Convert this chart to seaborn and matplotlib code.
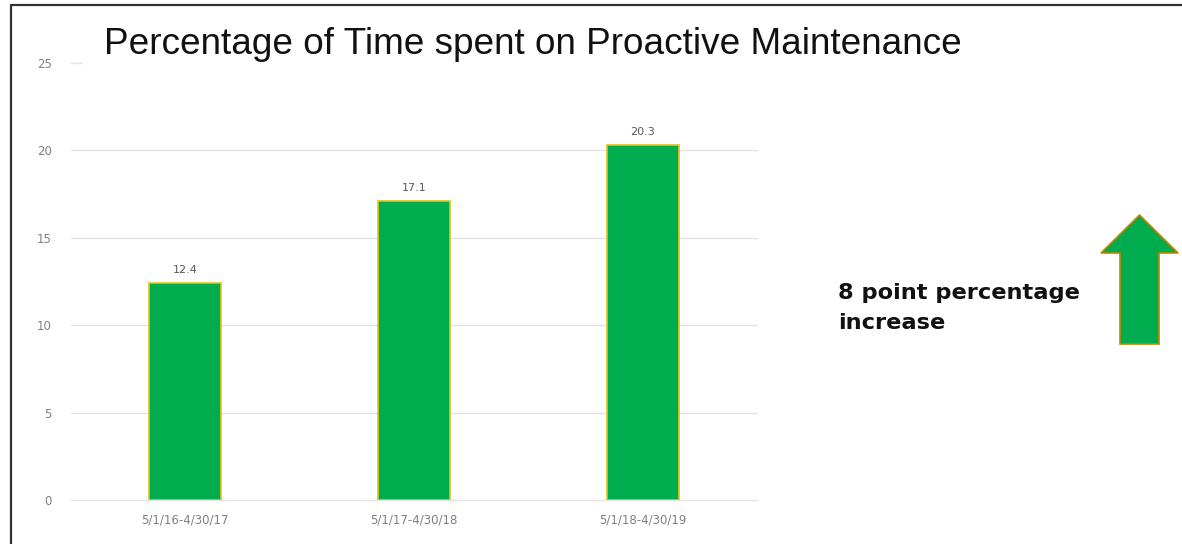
import matplotlib
matplotlib.use("Agg")
import matplotlib.pyplot as plt
from matplotlib.lines import Line2D
from matplotlib.patches import FancyArrow
import seaborn as sns
import pandas as pd

periods = ["5/1/16-4/30/17", "5/1/17-4/30/18", "5/1/18-4/30/19"]
proactive_pct = [12.4, 17.1, 20.3]
y_ticks = [0, 5, 10, 15, 20, 25]

title = "Percentage of Time spent on Proactive Maintenance"
note = "8 point percentage\nincrease"

bar_green = "#00AC4E"
bar_edge = "#E2C21A"
tick_grey = "#7F7F7F"
label_grey = "#595959"

sns.set_theme(style="white")
plt.rcParams["font.family"] = ["DejaVu Sans"]

df = pd.DataFrame({"period": periods, "pct": proactive_pct})

fig = plt.figure(figsize=(11.82, 5.44), dpi=100)
ax = fig.add_axes([0.0601, 0.0809, 0.5803, 0.8033])

sns.barplot(data=df, x="period", y="pct", color=bar_green, width=0.315,
            saturation=1, edgecolor=bar_edge, linewidth=1.2, ax=ax, zorder=3)

for i, v in enumerate(proactive_pct):
    ax.text(i, v + 0.45, f"{v}", ha="center", va="bottom",
            fontsize=8, color=label_grey)

ax.set_xlim(-0.5, 2.5)
ax.set_ylim(0, 25)
ax.set_yticks(y_ticks)
ax.set_xlabel("")
ax.set_ylabel("")
ax.yaxis.grid(True, color="#E3E3E3", linewidth=1.0, zorder=0)
ax.set_axisbelow(True)
for gl in ax.get_ygridlines():
    gl.set_clip_on(False)
for s in ax.spines.values():
    s.set_visible(False)
ax.tick_params(axis="both", length=0, labelsize=8.5, labelcolor=tick_grey)
ax.tick_params(axis="y", pad=14)
ax.tick_params(axis="x", pad=10)

# Title sits on a white box that masks the top gridline
fig.text(104 / 1182, 1 - 44 / 544, title, ha="left", va="center",
         fontsize=26.6, color="#111111", family=["Liberation Sans", "DejaVu Sans"],
         bbox=dict(boxstyle="square,pad=0.58", fc="white", ec="none"),
         zorder=5)

fig.text(838 / 1182, 1 - 308 / 544, note, ha="left", va="center",
         fontsize=16.2, fontweight="bold", color="#111111", linespacing=1.65)

# Upward arrow beside the note
arr = FancyArrow(1139.5 / 1182, 1 - 344 / 544, 0, (344 - 215) / 544,
                 width=39 / 1182, head_width=77 / 1182,
                 head_length=(253 - 215) / 544, length_includes_head=True,
                 transform=fig.transFigure, fc=bar_green, ec="#B88A00", lw=1.2)
fig.add_artist(arr)

# Frame lines along the top and left edges
fig.add_artist(Line2D([11 / 1182, 1.0], [1 - 5 / 544, 1 - 5 / 544],
                      transform=fig.transFigure, color="#333333", lw=1.6, zorder=10))
fig.add_artist(Line2D([11 / 1182, 11 / 1182], [0, 1 - 5 / 544],
                      transform=fig.transFigure, color="#333333", lw=1.6, zorder=10))

fig.savefig("out.png", dpi=100, facecolor="white")
